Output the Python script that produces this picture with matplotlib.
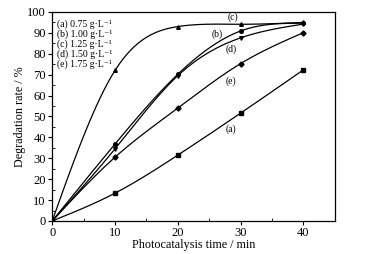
import numpy as np
import matplotlib
matplotlib.use('Agg')
import matplotlib.pyplot as plt
from matplotlib.ticker import MultipleLocator

plt.rcParams['font.family'] = ['Liberation Serif', 'DejaVu Serif']

time_min = [0, 10, 20, 30, 40]
rate_a = [0, 13.3, 31.5, 51.6, 72.3]
rate_b = [0, 36.8, 70.2, 90.9, 94.6]
rate_c = [0, 72.0, 93.0, 94.1, 95.0]
rate_d = [0, 34.5, 69.5, 87.6, 94.2]
rate_e = [0, 30.5, 54.0, 75.3, 90.1]

series_tags = ['(a)', '(b)', '(c)', '(d)', '(e)']
legend_lines = ['(a) 0.75 g·L⁻¹', '(b) 1.00 g·L⁻¹', '(c) 1.25 g·L⁻¹',
                '(d) 1.50 g·L⁻¹', '(e) 1.75 g·L⁻¹']
markers = ['s', 'o', '^', 'v', 'D']
tag_pos = [(28.4, 44), (26.3, 89.5), (28.7, 97.6), (28.5, 82.3), (28.4, 67)]


def smooth(x, y, n=200):
    # natural cubic spline, only for drawing the connecting curve
    x = np.asarray(x, float)
    y = np.asarray(y, float)
    k = len(x)
    h = np.diff(x)
    A = np.zeros((k, k))
    r = np.zeros(k)
    A[0, 0] = A[-1, -1] = 1
    for i in range(1, k - 1):
        A[i, i - 1] = h[i - 1]
        A[i, i] = 2 * (h[i - 1] + h[i])
        A[i, i + 1] = h[i]
        r[i] = 6 * ((y[i + 1] - y[i]) / h[i] - (y[i] - y[i - 1]) / h[i - 1])
    m = np.linalg.solve(A, r)
    xs = np.linspace(x[0], x[-1], n)
    idx = np.clip(np.searchsorted(x, xs) - 1, 0, k - 2)
    x0, x1 = x[idx], x[idx + 1]
    hh = x1 - x0
    t0, t1 = x1 - xs, xs - x0
    ys = (m[idx] * t0 ** 3 + m[idx + 1] * t1 ** 3) / (6 * hh) \
        + (y[idx] / hh - m[idx] * hh / 6) * t0 + (y[idx + 1] / hh - m[idx + 1] * hh / 6) * t1
    return xs, ys


fig = plt.figure(figsize=(3.7, 2.54), dpi=100)
ax = fig.add_axes([0.141, 0.13, 0.764, 0.823])

all_rates = [rate_a, rate_b, rate_c, rate_d, rate_e]
for rates, mk in zip(all_rates, markers):
    xs, ys = smooth(time_min, rates)
    ax.plot(xs, ys, color='black', lw=0.9)
    ax.plot(time_min, rates, ls='none', marker=mk, ms=2.6, color='black')

for tag, (tx, ty) in zip(series_tags, tag_pos):
    ax.text(tx, ty, tag, fontsize=7, ha='center', va='center')

for i, line in enumerate(legend_lines):
    ax.text(0.8, 94.0 - i * 4.7, line, fontsize=7, ha='left', va='center')

ax.set_xlim(0, 45)
ax.set_ylim(0, 100)
ax.xaxis.set_major_locator(MultipleLocator(10))
ax.xaxis.set_minor_locator(MultipleLocator(5))
ax.yaxis.set_major_locator(MultipleLocator(10))
ax.yaxis.set_minor_locator(MultipleLocator(5))
ax.tick_params(which='major', direction='out', length=3, width=0.8, labelsize=9, pad=1.5)
ax.tick_params(which='minor', direction='in', length=2, width=0.6)
for s in ax.spines.values():
    s.set_linewidth(0.9)

ax.set_xlabel('Photocatalysis time / min', fontsize=8.7, labelpad=0)
ax.set_ylabel('Degradation rate / %', fontsize=8.7, labelpad=1)

fig.savefig('out.png', dpi=100)
